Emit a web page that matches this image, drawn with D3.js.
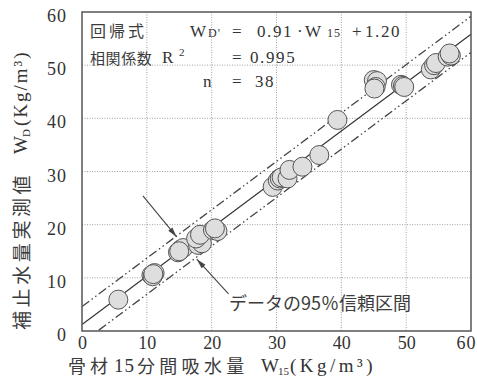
<!DOCTYPE html>
<html>
<head>
<meta charset="utf-8">
<script src="https://cdn.jsdelivr.net/npm/d3@7"></script>
<style>
  html, body { margin: 0; padding: 0; background: #fff; }
  svg { display: block; }
  .ser { font-family: "Liberation Serif", "DejaVu Serif", serif; fill: #333; }
  .jp { font-family: "Noto Sans CJK JP", sans-serif; fill: #3c3c3c; }
</style>
</head>
<body>
<svg id="chart" width="477" height="377"></svg>
<script>
// Aggregate 15-minute absorption (x) vs. measured water correction (y), kg/m3
const absorption15 = [5.6, 10.7, 11.2, 10.9, 11.0, 14.8, 15.2, 15.6, 15.0, 17.9, 18.5, 17.6, 18.2, 20.2, 20.9, 20.5,
  29.4, 30.2, 30.5, 30.8, 31.7, 32.0, 34.0, 36.6, 39.4,
  45.0, 45.5, 45.3, 45.1, 49.2, 49.5, 49.7, 53.8, 54.3, 54.6, 56.4, 56.9, 56.7];
const measuredWD = [5.9, 10.5, 10.9, 10.3, 10.7, 14.8, 15.3, 15.6, 15.0, 16.2, 16.5, 17.4, 18.1, 19.0, 18.8, 19.3,
  27.1, 28.3, 28.7, 28.9, 28.7, 30.3, 30.9, 33.1, 39.7,
  47.2, 47.0, 45.9, 45.6, 46.3, 46.1, 45.9, 49.2, 50.0, 50.4, 51.6, 51.8, 52.2];

// Regression WD' = 0.91 * W15 + 1.20 and the 95% band around it
const slope = 0.91;
const intercept = 1.20;
const bandHalfWidth = 3.4;

const xTicks = [0, 10, 20, 30, 40, 50, 60];
const yTicks = [0, 10, 20, 30, 40, 50, 60];
const gridValues = [10, 20, 30, 40, 50];

// Arrow annotations pointing at the band lines, in data units [tailX, tailY, tipX, tipY]
const arrowUpper = [9.4, 25.4, 14.6, 17.7];
const arrowLower = [22.6, 7.0, 17.7, 13.5];

const svg = d3.select("#chart");
const pLeft = 82, pRight = 471, pTop = 12, pBottom = 331;

const x = d3.scaleLinear().domain([0, 60]).range([pLeft, pRight]);
const y = d3.scaleLinear().domain([0, 60]).range([pBottom, pTop]);

svg.append("defs").append("clipPath").attr("id", "plotClip")
  .append("rect").attr("x", pLeft).attr("y", pTop)
  .attr("width", pRight - pLeft).attr("height", pBottom - pTop);

// grid
const grid = svg.append("g").attr("stroke", "#a0a0a0").attr("stroke-width", 1)
  .attr("stroke-dasharray", "1,1.5");
grid.selectAll("line.v").data(gridValues).join("line").attr("class", "v")
  .attr("x1", d => x(d)).attr("x2", d => x(d)).attr("y1", pTop).attr("y2", pBottom);
grid.selectAll("line.h").data(gridValues).join("line").attr("class", "h")
  .attr("y1", d => y(d)).attr("y2", d => y(d)).attr("x1", pLeft).attr("x2", pRight);

// regression line and band
const lines = svg.append("g").attr("clip-path", "url(#plotClip)").attr("fill", "none");
const lineGen = off => [[0, intercept + off], [60, slope * 60 + intercept + off]];
const path = d3.line().x(d => x(d[0])).y(d => y(d[1]));
lines.append("path").attr("d", path(lineGen(0))).attr("stroke", "#333").attr("stroke-width", 1.2);
[bandHalfWidth, -bandHalfWidth].forEach(off => {
  lines.append("path").attr("d", path(lineGen(off)))
    .attr("stroke", "#444").attr("stroke-width", 1.3)
    .attr("stroke-dasharray", "9,3,1.5,3,1.5,3");
});

// points
svg.append("g").selectAll("circle").data(absorption15).join("circle")
  .attr("cx", d => x(d)).attr("cy", (d, i) => y(measuredWD[i]))
  .attr("r", 9.5).attr("fill", "#dedede").attr("stroke", "#555").attr("stroke-width", 1);

// frame
svg.append("rect").attr("x", pLeft).attr("y", pTop).attr("width", pRight - pLeft).attr("height", pBottom - pTop)
  .attr("fill", "none").attr("stroke", "#555").attr("stroke-width", 1.5);

// axes
const xAxis = svg.append("g").attr("transform", `translate(0,${pBottom})`)
  .call(d3.axisBottom(x).tickValues(xTicks).tickSize(0).tickPadding(4).tickFormat(d3.format("d")));
const yAxis = svg.append("g").attr("transform", `translate(${pLeft},0)`)
  .call(d3.axisLeft(y).tickValues(yTicks).tickSize(0).tickPadding(15).tickFormat(d3.format("d")));
[xAxis, yAxis].forEach(a => {
  a.select(".domain").remove();
  a.selectAll("text").attr("class", "ser").attr("font-size", 18).attr("fill", "#333")
    .attr("font-family", "Liberation Serif, serif");
});
yAxis.selectAll("text").attr("dy", "0.53em").attr("letter-spacing", "1px");
xAxis.selectAll("text").attr("dy", "0.75em");
xAxis.selectAll("text").filter(d => d === 60).attr("text-anchor", "end").attr("x", 5).attr("letter-spacing", "1px");

// arrows
const arrowHead = (x1, y1, x2, y2) => {
  const ang = Math.atan2(y2 - y1, x2 - x1), len = 10, w = 2.6;
  const bx = x2 - len * Math.cos(ang), by = y2 - len * Math.sin(ang);
  const nx = -Math.sin(ang) * w, ny = Math.cos(ang) * w;
  return `M${x2},${y2}L${bx + nx},${by + ny}L${bx - nx},${by - ny}Z`;
};
[arrowUpper, arrowLower].forEach(a => {
  const [x1, y1, x2, y2] = [x(a[0]), y(a[1]), x(a[2]), y(a[3])];
  svg.append("line").attr("x1", x1).attr("y1", y1).attr("x2", x2).attr("y2", y2)
    .attr("stroke", "#444").attr("stroke-width", 1.1);
  svg.append("path").attr("d", arrowHead(x1, y1, x2, y2)).attr("fill", "#444");
});

svg.append("text").attr("class", "jp").attr("x", 229).attr("y", 302)
  .attr("dominant-baseline", "central").attr("font-size", 18).text("データの95％信頼区間");

// regression summary
const t = (cls, xx, yy, size, txt, extra) => {
  const el = svg.append("text").attr("class", cls).attr("x", xx).attr("y", yy)
    .attr("font-size", size).text(txt);
  if (extra) Object.entries(extra).forEach(([k, v]) => el.attr(k, v));
  return el;
};
t("jp", 90, 37, 16, "回帰式", { "letter-spacing": "3px" });
t("jp", 90, 64, 15, "相関係数", { "letter-spacing": "0.6px" });

t("ser", 190, 37, 17, "W");
t("ser", 208, 37, 12, "D'", { "letter-spacing": "1px" });
t("ser", 232, 37, 17, "=");
t("ser", 257, 37, 17, "0.91", { "letter-spacing": "1.6px" });
t("ser", 297, 37, 17, "·");
t("ser", 305, 37, 17, "W");
t("ser", 327, 37, 12, "15", { "letter-spacing": "1px" });
t("ser", 352, 37, 17, "+");
t("ser", 365, 37, 17, "1.20", { "letter-spacing": "1.6px" });

t("ser", 162, 63, 17, "R");
t("ser", 179, 56, 11, "2");
t("ser", 232, 63, 17, "=");
t("ser", 250, 63, 17, "0.995", { "letter-spacing": "1.6px" });

t("ser", 203, 87, 17, "n");
t("ser", 232, 87, 17, "=");
t("ser", 255, 87, 17, "38", { "letter-spacing": "1.6px" });

// x-axis title
const xt = 365;
t("jp", 68, xt, 18, "骨材", { "letter-spacing": "4px", "dominant-baseline": "central" });
t("ser", 114, xt, 19, "15", { "letter-spacing": "1px", "dominant-baseline": "central" });
t("jp", 137, xt, 18, "分間吸水量", { "letter-spacing": "4.3px", "dominant-baseline": "central" });
t("ser", 261, xt, 19, "W", { "dominant-baseline": "central" });
t("ser", 278, xt + 6, 11, "15", { "dominant-baseline": "central" });
t("ser", 290, xt, 19, "(Kg/m³)", { "letter-spacing": "3.5px", "dominant-baseline": "central" });

// y-axis title, reading bottom to top
const yt = svg.append("g").attr("transform", "translate(20,0) rotate(-90)");
yt.append("text").attr("class", "jp").attr("x", -330).attr("y", 0).attr("font-size", 19)
  .attr("letter-spacing", "3.6px").attr("dominant-baseline", "central").text("補止水量実測値");
yt.append("text").attr("class", "ser").attr("x", -154).attr("y", 0).attr("font-size", 19)
  .attr("dominant-baseline", "central").text("W");
yt.append("text").attr("class", "ser").attr("x", -137).attr("y", 6).attr("font-size", 11)
  .attr("dominant-baseline", "central").text("D");
yt.append("text").attr("class", "ser").attr("x", -126).attr("y", 0).attr("font-size", 19)
  .attr("letter-spacing", "2px").attr("dominant-baseline", "central").text("(Kg/m³)");
</script>
</body>
</html>
